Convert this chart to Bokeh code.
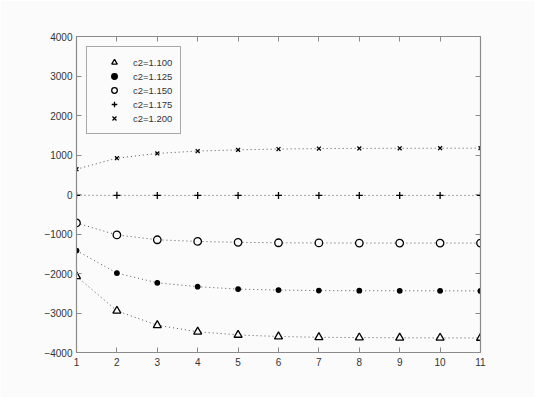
from bokeh.plotting import figure
from bokeh.models import Range1d, LinearAxis, FixedTicker, Legend, LegendItem
from bokeh.embed import file_html
from bokeh.resources import INLINE

x = [1, 2, 3, 4, 5, 6, 7, 8, 9, 10, 11]
c2_1100 = [-2070, -2945, -3310, -3475, -3555, -3595, -3615, -3622, -3627, -3630, -3632]
c2_1125 = [-1420, -1990, -2236, -2334, -2395, -2420, -2432, -2436, -2438, -2439, -2440]
c2_1150 = [-720, -1024, -1146, -1188, -1211, -1222, -1227, -1229, -1230, -1230, -1230]
c2_1175 = [-20, -22, -23, -24, -24, -24, -24, -24, -24, -24, -24]
c2_1200 = [640, 920, 1040, 1100, 1130, 1150, 1162, 1167, 1170, 1172, 1173]
labels = ["c2=1.100", "c2=1.125", "c2=1.150", "c2=1.175", "c2=1.200"]
x_ticks = list(range(1, 12))
y_ticks = [-4000, -3000, -2000, -1000, 0, 1000, 2000, 3000, 4000]

BG = "#fbfbfb"
FONT = "Liberation Sans"

p = figure(width=534, height=397, output_backend="svg", toolbar_location=None,
           x_range=Range1d(1, 11), y_range=Range1d(-4000, 4000),
           min_border_left=76, min_border_right=54, min_border_top=36, min_border_bottom=45)
p.background_fill_color = BG
p.border_fill_color = BG
p.outline_line_color = None
p.grid.visible = False

p.add_layout(LinearAxis(), "above")
p.add_layout(LinearAxis(), "right")

for ax in p.xaxis:
    ax.ticker = FixedTicker(ticks=x_ticks)
for ax in p.yaxis:
    ax.ticker = FixedTicker(ticks=y_ticks)
for ax in p.axis:
    ax.axis_line_color = "#8a8a8a"
    ax.axis_line_width = 1.2
    ax.major_tick_line_color = "#8a8a8a"
    ax.major_tick_in = 5
    ax.major_tick_out = 0
    ax.minor_tick_line_color = None
    ax.major_label_text_font = FONT
    ax.major_label_text_font_size = "10px"
    ax.major_label_text_color = "#333333"
for ax in p.above + p.right:
    ax.major_label_text_color = None
p.below[0].major_label_standoff = 5
p.left[0].major_label_standoff = 4

series = [c2_1100, c2_1125, c2_1150, c2_1175, c2_1200]
markers = ["triangle", "circle", "circle", "cross", "x"]
sizes = [8, 4.5, 7.5, 7, 5.5]
fills = [None, "black", None, None, None]

items = []
for ys, mk, sz, fc, lab in zip(series, markers, sizes, fills, labels):
    p.line(x, ys, line_color="#555555", line_width=1, line_dash="1 3")
    r = p.scatter(x, ys, marker=mk, size=sz, line_color="black", line_width=1.3,
                  fill_color=fc if fc else BG, fill_alpha=1)
    items.append(LegendItem(label=lab, renderers=[r]))

legend = Legend(items=items, location="top_left", margin=10, padding=8, spacing=0,
                glyph_height=14, glyph_width=38, label_height=14, label_standoff=0,
                label_text_font=FONT, label_text_font_size="9.5px", label_text_color="#333333",
                border_line_color="#555555", border_line_width=1,
                background_fill_color=BG, background_fill_alpha=1)
p.add_layout(legend, "center")

open("out.html", "w").write(file_html(p, INLINE))
